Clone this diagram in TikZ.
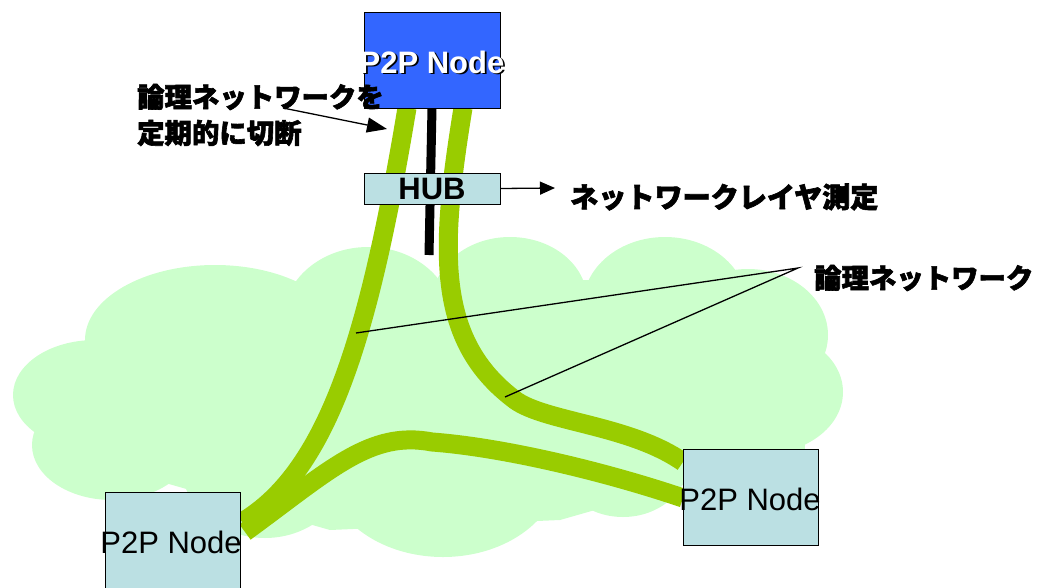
\documentclass[tikz,border=0pt]{standalone}
\usepackage{fontspec}
\setmainfont{Liberation Sans}
\newfontfamily\jp{Noto Sans CJK JP}[FakeBold=2.2, BoldFeatures={FakeBold=2.2}]
\usetikzlibrary{arrows.meta}
\definecolor{nodeblue}{RGB}{51,102,255}
\definecolor{nodecyan}{RGB}{187,224,227}
\definecolor{strandgreen}{RGB}{153,204,0}
\definecolor{cloudgreen}{RGB}{204,255,204}
\tikzset{
  box/.style={draw=black, line width=1pt, inner sep=0pt},
  strandline/.style={draw=strandgreen, line width=19pt},
  leader/.style={draw=black, line width=1.3pt},
  jplabel/.style={font=\jp\bfseries\fontsize{#1}{30}\selectfont, inner sep=0pt, anchor=west},
  jplabel/.default=27.4,
  nodetext/.style={font=\fontsize{31}{34}\selectfont, inner sep=0pt},
  boldtext/.style={font=\bfseries\fontsize{31}{34}\selectfont, inner sep=0pt},
  cloudpart/.style={fill=cloudgreen, draw=none}
}
\begin{document}
\begin{tikzpicture}[x=1pt,y=-1pt]
\useasboundingbox (0,0) rectangle (1037,587);
% cloud
\fill[cloudpart] (215,340) ellipse [x radius=130, y radius=75];
\fill[cloudpart] (368,320) ellipse [x radius=85, y radius=73];
\fill[cloudpart] (510,300) ellipse [x radius=77, y radius=63];
\fill[cloudpart] (665,305) ellipse [x radius=82, y radius=68];
\fill[cloudpart] (748,335) ellipse [x radius=80, y radius=66];
\fill[cloudpart] (762,392) ellipse [x radius=81, y radius=62];
\fill[cloudpart] (735,445) ellipse [x radius=70, y radius=60];
\fill[cloudpart] (623,460) ellipse [x radius=66, y radius=57];
\fill[cloudpart] (443,468) ellipse [x radius=117, y radius=89];
\fill[cloudpart] (265,460) ellipse [x radius=85, y radius=78];
\fill[cloudpart] (112,445) ellipse [x radius=80, y radius=55];
\fill[cloudpart] (95,395) ellipse [x radius=82, y radius=55];
\fill[cloudpart] (120,350) -- (300,290) -- (590,280) -- (760,300) -- (800,420) -- (700,480) -- (560,520) -- (330,530) -- (120,470) -- cycle;
% black cable
\coordinate (cabletop) at (432,108);
\coordinate (cableend) at (429,255);
\draw[black, line width=9pt] (cabletop) -- (cableend);
% strands
\coordinate (ltop) at (407,108);
\coordinate (rtop) at (463,108);
\coordinate (lend) at (242,522);
\coordinate (rmid) at (515,400);
\coordinate (rend) at (683,462);
\coordinate (bstart) at (245,532);
\coordinate (bpeak) at (432,442);
\coordinate (bend) at (683,498);
\draw[strandline] (ltop) .. controls (370,330) and (330,470) .. (lend);
\draw[strandline] (rtop) .. controls (440,250) and (435,340) .. (rmid) .. controls (545,422) and (630,425) .. (rend);
\draw[strandline] (bstart) .. controls (330,470) and (370,430) .. (bpeak) .. controls (500,447) and (600,470) .. (bend);
% boxes
\node[box, fill=nodeblue, minimum width=136pt, minimum height=96pt] (topnode) at (432,60) {};
\node[box, fill=nodecyan, minimum width=136pt, minimum height=31pt] (hub) at (432,188.5) {};
\node[box, fill=nodecyan, minimum width=135pt, minimum height=110pt] (leftnode) at (172.5,547) {};
\node[box, fill=nodecyan, minimum width=135pt, minimum height=96pt] (rightnode) at (750.5,497.5) {};
% texts in boxes
\node[boldtext, text=black] (topshadow) at (433.8,63.8) {P2P Node};
\node[boldtext, text=white] (toplabel) at (432,62) {P2P Node};
\node[boldtext] (hublabel) at (432,189) {HUB};
\node[nodetext] (leftlabel) at (171,542) {P2P Node};
\node[nodetext] (rightlabel) at (750,499) {P2P Node};
% measure arrow
\node[jplabel=28.1] (measure) at (570,197) {ネットワークレイヤ測定};
\coordinate (measuretip) at (555,188);
\draw[black, line width=1.3pt, -{Triangle[length=15pt, width=13pt]}] (hub.east) -- (measuretip);
% logical network label
\node[jplabel=27.4] (logical) at (814,278) {論理ネットワーク};
\coordinate (apex) at (798,268);
\coordinate (lpt) at (356,333);
\coordinate (rpt) at (505,397);
\draw[leader] (lpt) -- (apex) -- (rpt);
% cut label
\node[jplabel] (cut1) at (137,97) {論理ネットワークを};
\node[jplabel] (cut2) at (137,133) {定期的に切断};
\coordinate (cutstart) at (283,108);
\coordinate (cuttip) at (387,129);
\draw[black, line width=1.3pt, -{Triangle[length=20pt, width=15pt]}] (cutstart) -- (cuttip);
\end{tikzpicture}
\end{document}
